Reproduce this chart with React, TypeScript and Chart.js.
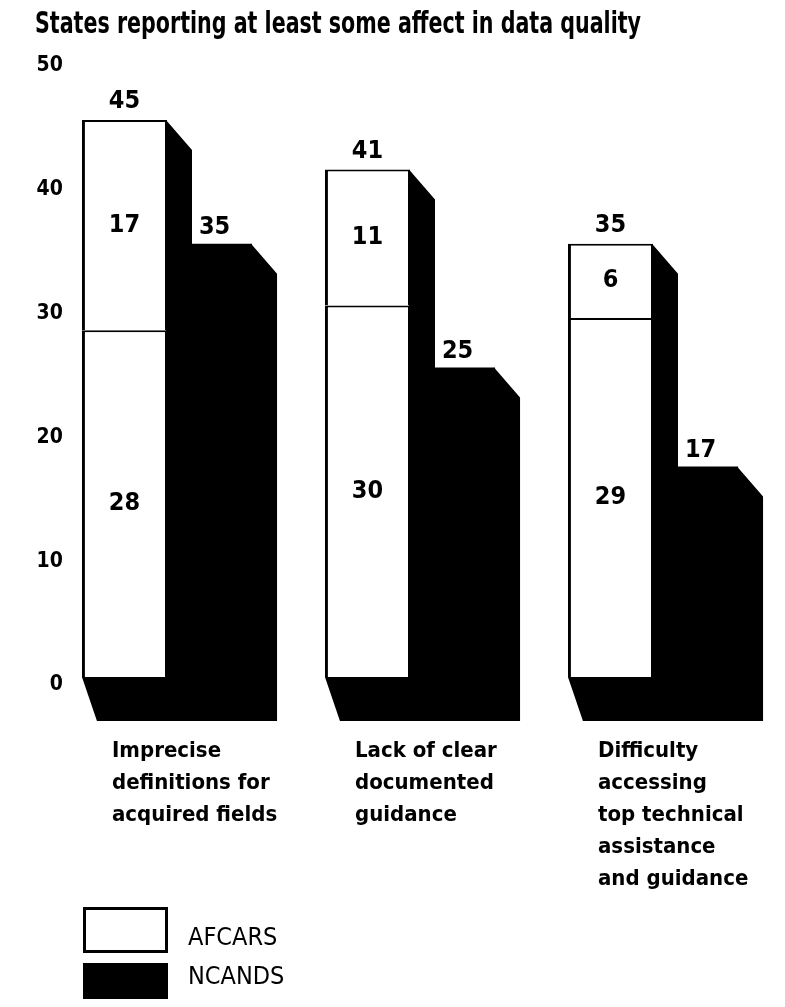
import React, { useEffect, useRef } from "react";
import { Chart, registerables } from "chart.js";

Chart.register(...registerables);

const TITLE = "States reporting at least some affect in data quality";
const categories = [
  ["Imprecise", "definitions for", "acquired fields"],
  ["Lack of clear", "documented", "guidance"],
  ["Difficulty", "accessing", "top technical", "assistance", "and guidance"],
];
const afcarsBase = [28, 30, 29];
const afcarsTop = [17, 11, 6];
const ncands = [35, 25, 17];
const yTicks = [0, 10, 20, 30, 40, 50];
const legendLabels = ["AFCARS", "NCANDS"];

const NARROW = '"Liberation Sans Narrow", "DejaVu Sans Condensed", sans-serif';

const DX = 25;
const DYT = 30;
const DYB = 44;

const shadowPlugin = {
  id: "shadow3d",
  beforeDatasetsDraw(chart: any) {
    const ctx = chart.ctx;
    const y = chart.scales.y;
    const B = y.getPixelForValue(0);
    const m0 = chart.getDatasetMeta(0);
    const m1 = chart.getDatasetMeta(1);
    const m2 = chart.getDatasetMeta(2);
    const draw = (L: number, R: number, T: number) => {
      ctx.beginPath();
      ctx.moveTo(R - 1, T);
      ctx.lineTo(R + DX, T + DYT);
      ctx.lineTo(R + DX, B + DYB);
      ctx.lineTo(L + DX * 0.6, B + DYB);
      ctx.lineTo(L, B);
      ctx.lineTo(R - 1, B);
      ctx.closePath();
      ctx.fill();
    };
    ctx.save();
    ctx.fillStyle = "#000";
    for (let i = 0; i < m0.data.length; i++) {
      const e0 = m0.data[i];
      const e1 = m1.data[i];
      const e2 = m2.data[i];
      draw(e2.x - e2.width / 2, e2.x + e2.width / 2, e2.y);
      draw(e0.x - e0.width / 2, e0.x + e0.width / 2, e1.y);
    }
    ctx.restore();
  },
  afterDatasetsDraw(chart: any) {
    const ctx = chart.ctx;
    const m0 = chart.getDatasetMeta(0);
    const m1 = chart.getDatasetMeta(1);
    const m2 = chart.getDatasetMeta(2);
    ctx.save();
    ctx.fillStyle = "#000";
    ctx.font = `bold 25px ${NARROW}`;
    ctx.textAlign = "center";
    ctx.textBaseline = "middle";
    for (let i = 0; i < m0.data.length; i++) {
      const e0 = m0.data[i];
      const e1 = m1.data[i];
      const e2 = m2.data[i];
      ctx.fillText(String(afcarsBase[i]), e0.x, (e0.y + e0.base) / 2);
      ctx.fillText(String(afcarsTop[i]), e1.x, (e1.y + e1.base) / 2);
      ctx.fillText(String(afcarsBase[i] + afcarsTop[i]), e1.x, e1.y - 18);
      ctx.fillText(String(ncands[i]), e2.x + 5, e2.y - 16);
    }
    ctx.restore();
  },
  afterDraw(chart: any) {
    const ctx = chart.ctx;
    ctx.save();
    ctx.fillStyle = "#000";
    ctx.font = `bold 31px ${NARROW}`;
    ctx.textAlign = "left";
    ctx.textBaseline = "alphabetic";
    ctx.fillText(TITLE, 27, 25, 606);

    // legend
    ctx.fillStyle = "#fff";
    ctx.fillRect(75, 899, 85, 46);
    ctx.strokeStyle = "#000";
    ctx.lineWidth = 3;
    ctx.strokeRect(76.5, 900.5, 82, 43);
    ctx.fillStyle = "#000";
    ctx.fillRect(75, 955, 85, 50);
    ctx.font = `25px ${NARROW}`;
    ctx.textBaseline = "middle";
    ctx.fillText(legendLabels[0], 180, 930);
    ctx.fillText(legendLabels[1], 180, 969);
    ctx.restore();
  },
};

export default function App() {
  const ref = useRef<HTMLCanvasElement | null>(null);
  useEffect(() => {
    if (!ref.current) return;
    const border = { left: 3, top: 2, right: 2, bottom: 0 };
    const chart = new Chart(ref.current, {
      type: "bar",
      data: {
        labels: categories as any,
        datasets: [
          {
            label: "AFCARS",
            data: afcarsBase,
            stack: "a",
            backgroundColor: "#fff",
            borderColor: "#000",
            borderWidth: border,
            borderSkipped: false,
          },
          {
            label: "AFCARS ",
            data: afcarsTop,
            stack: "a",
            backgroundColor: "#fff",
            borderColor: "#000",
            borderWidth: border,
            borderSkipped: false,
          },
          {
            label: "NCANDS",
            data: ncands,
            stack: "b",
            backgroundColor: "#000",
            borderColor: "#000",
            borderWidth: 0,
          },
        ],
      },
      options: {
        animation: false,
        responsive: true,
        maintainAspectRatio: false,
        layout: { padding: { top: 50, left: 37.5, right: 2.5, bottom: 0 } },
        datasets: { bar: { categoryPercentage: 0.7, barPercentage: 1 } },
        plugins: {
          legend: { display: false },
          title: { display: false },
          tooltip: { enabled: false },
        },
        scales: {
          x: {
            stacked: true,
            grid: { display: false, drawTicks: false },
            border: { display: false },
            ticks: {
              align: "start",
              labelOffset: -55,
              padding: 58,
              maxRotation: 0,
              minRotation: 0,
              autoSkip: false,
              color: "#000",
              font: { family: NARROW, size: 22, weight: "bold", lineHeight: "32px" },
            },
            afterFit: (s: any) => {
              s.height = 322;
              s.paddingLeft = 0;
              s.paddingRight = 0;
            },
          },
          y: {
            stacked: true,
            min: 0,
            max: 50,
            afterBuildTicks: (s: any) => {
              s.ticks = yTicks.map((v) => ({ value: v }));
            },
            grid: { display: false, drawTicks: false },
            border: { display: false },
            ticks: {
              mirror: true,
              crossAlign: "far",
              padding: -9,
              labelOffset: 8,
              color: "#000",
              font: { family: NARROW, size: 21, weight: "bold" },
            },
            afterFit: (s: any) => {
              s.width = 0;
              s.paddingTop = 0;
              s.paddingBottom = 0;
            },
          },
        },
      } as any,
      plugins: [shadowPlugin],
    });
    return () => chart.destroy();
  }, []);
  return (
    <div style={{ width: 769, height: 991, position: "relative" }}>
      <canvas ref={ref} />
    </div>
  );
}
